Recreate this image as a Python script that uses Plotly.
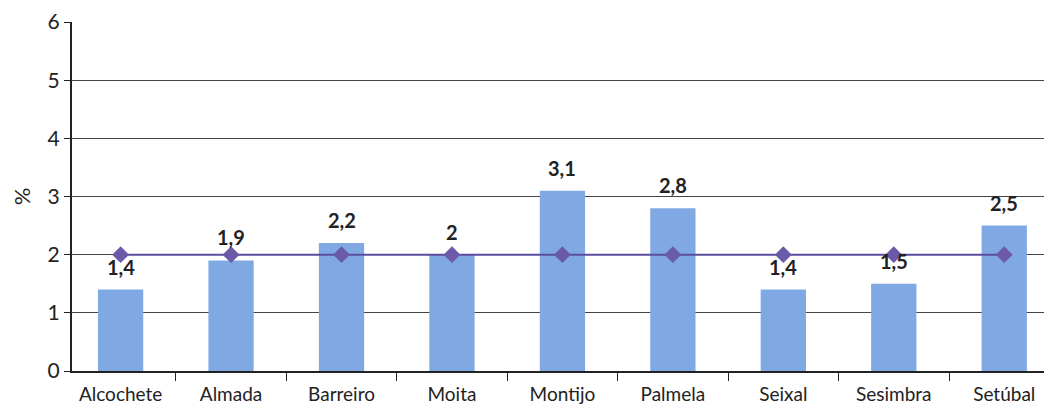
import plotly.graph_objects as go

concelhos = ["Alcochete", "Almada", "Barreiro", "Moita", "Montijo", "Palmela", "Seixal", "Sesimbra", "Setúbal"]
valores = [1.4, 1.9, 2.2, 2.0, 3.1, 2.8, 1.4, 1.5, 2.5]
media = [2.0, 2.0, 2.0, 2.0, 2.0, 2.0, 2.0, 2.0, 2.0]
rotulos = ["1,4", "1,9", "2,2", "2", "3,1", "2,8", "1,4", "1,5", "2,5"]

fig = go.Figure()
fig.add_trace(go.Bar(x=concelhos, y=valores, width=0.41,
                     marker=dict(color="#80a9e3", line=dict(width=0))))
fig.add_trace(go.Scatter(x=concelhos, y=media, mode="lines+markers",
                         line=dict(color="#5a4c9e", width=2),
                         marker=dict(symbol="diamond", size=13, color="#6b5aa8")))

for c, v, t in zip(concelhos, valores, rotulos):
    fig.add_annotation(x=c, y=v, text="<b>" + t + "</b>", showarrow=False,
                       yanchor="bottom", yshift=9,
                       font=dict(family="Lato", size=20, color="#222"))

# page has an 8px body margin, so the figure must fit inside 1036x400
fig.update_layout(
    width=1036, height=400,
    margin=dict(l=64, r=0, t=14, b=37),
    paper_bgcolor="white", plot_bgcolor="white",
    showlegend=False,
    font=dict(family="Lato", size=18, color="#222"),
    xaxis=dict(range=[-0.44, 8.36], showline=True, linecolor="#222", linewidth=2,
               ticks="outside", tickson="boundaries", ticklen=8,
               tickcolor="#222", showgrid=False, automargin=False,
               ticklabelstandoff=5, tickfont=dict(size=19)),
    yaxis=dict(range=[0, 6], dtick=1, showline=True, linecolor="#222", linewidth=2,
               ticks="outside", ticklen=6, tickcolor="#222",
               gridcolor="#444", gridwidth=1, zeroline=False, automargin=False,
               tickfont=dict(size=21),
               title=dict(text="%", font=dict(size=22), standoff=16)),
)

fig.write_html("out.html")
